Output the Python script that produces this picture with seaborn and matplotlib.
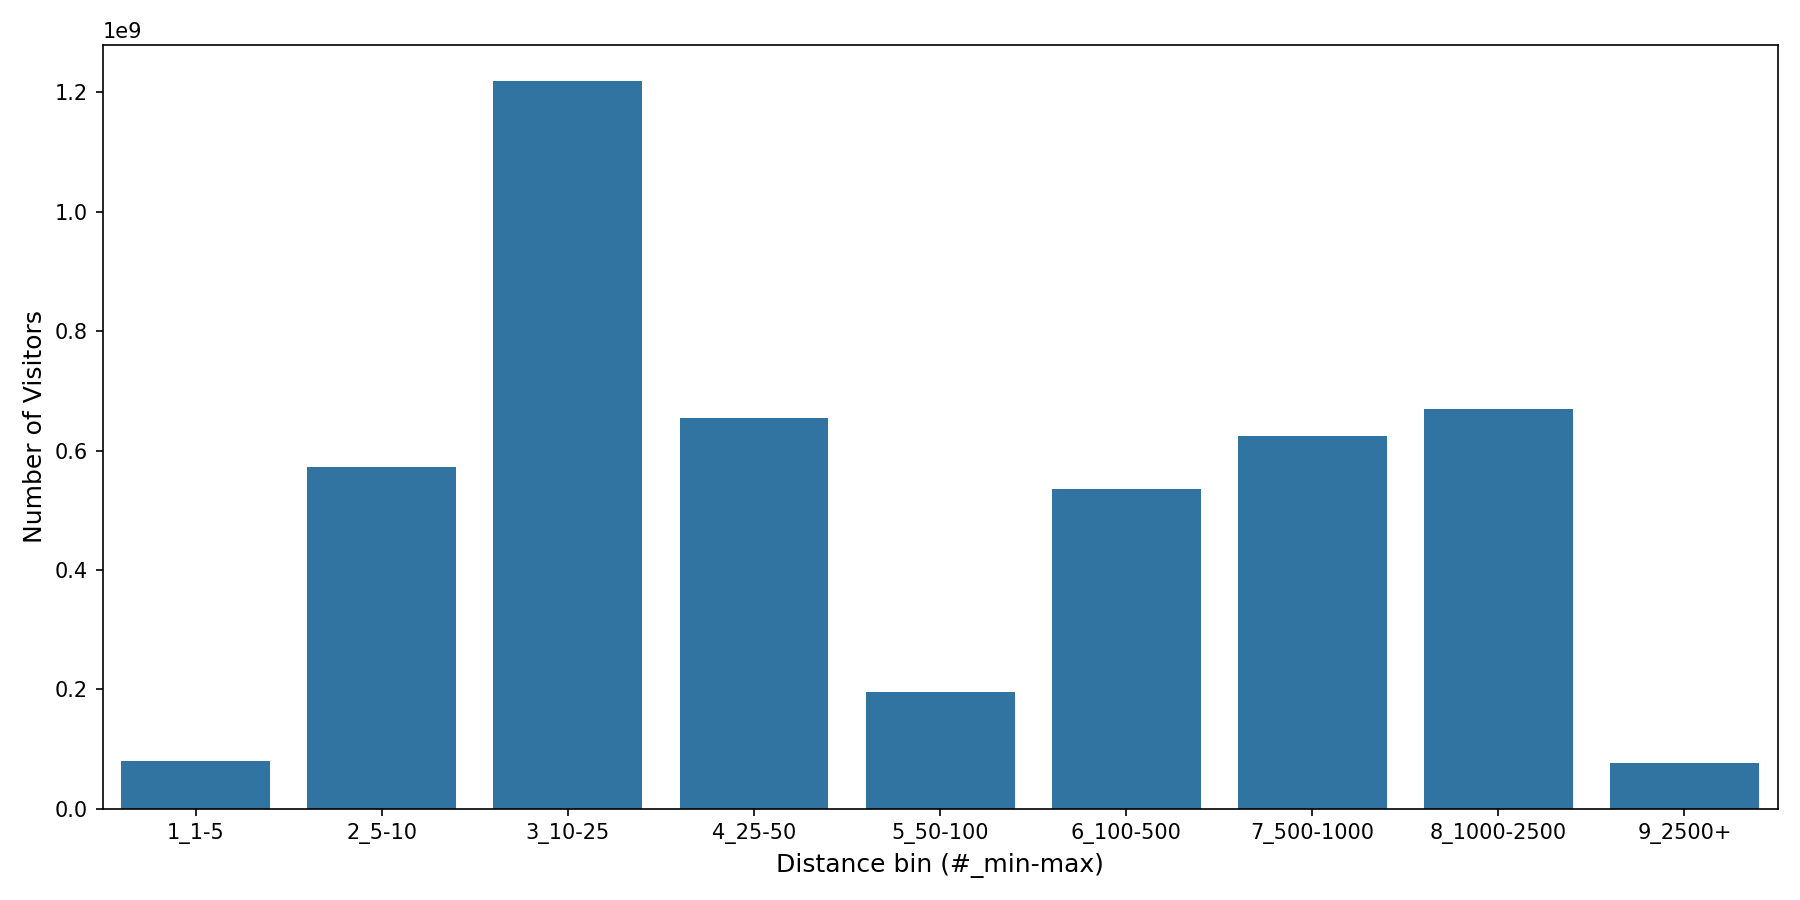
import matplotlib
matplotlib.use("Agg")
import matplotlib.pyplot as plt
import pandas as pd
import seaborn as sns

# distance bins and visitor totals
bins = ["1_1-5", "2_5-10", "3_10-25", "4_25-50", "5_50-100",
        "6_100-500", "7_500-1000", "8_1000-2500", "9_2500+"]
visitors = [0.079e9, 0.572e9, 1.219e9, 0.655e9, 0.195e9,
            0.535e9, 0.624e9, 0.669e9, 0.077e9]

df = pd.DataFrame({"distance_bin": bins, "visitors": visitors})

fig, ax = plt.subplots(figsize=(12, 6), dpi=150)
sns.barplot(data=df, x="distance_bin", y="visitors", color="#1f77b4", ax=ax)

ax.set_xlabel("Distance bin (#_min-max)", fontsize=12)
ax.set_ylabel("Number of Visitors", fontsize=12)

plt.tight_layout()
plt.savefig("out.png", dpi=150)
